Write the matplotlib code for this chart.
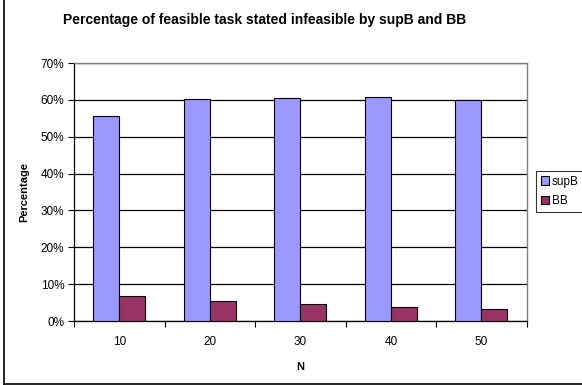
import numpy as np
import matplotlib
matplotlib.use("Agg")
import matplotlib.pyplot as plt
from matplotlib.lines import Line2D
from matplotlib.ticker import FuncFormatter

plt.rcParams['font.family'] = ['Liberation Sans', 'DejaVu Sans']

# data: percentage of feasible tasks reported infeasible
n_values = ["10", "20", "30", "40", "50"]
supb = [55.5, 60.2, 60.5, 60.7, 60.0]
bb = [6.7, 5.5, 4.6, 3.9, 3.3]

W, H = 582, 385
fig = plt.figure(figsize=(W / 100, H / 100), dpi=100)
ax = fig.add_axes([74 / W, 1 - 321 / H, (526.7 - 74) / W, (321 - 63) / H])

x = np.arange(len(n_values))
w = 0.287
ax.bar(x - w / 2, supb, w, color="#9999FF", edgecolor="black", linewidth=0.8,
       label="supB", zorder=3)
ax.bar(x + w / 2, bb, w, color="#993366", edgecolor="black", linewidth=0.8,
       label="BB", zorder=3)

ax.set_xlim(-0.5, len(n_values) - 0.5)
ax.set_ylim(0, 70)
ax.set_yticks(np.arange(0, 71, 10))
ax.yaxis.set_major_formatter(FuncFormatter(lambda v, p: f"{v:.0f}%"))
ax.yaxis.grid(True, color="black", linewidth=0.9, zorder=0)

# x ticks sit between categories, labels at centres
ax.set_xticks(np.arange(-0.5, len(n_values), 1.0))
ax.set_xticklabels([])
ax.set_xticks(x, minor=True)
ax.set_xticklabels(n_values, minor=True)
ax.tick_params(axis="x", which="major", direction="out", length=4, width=0.8)
ax.tick_params(axis="x", which="minor", length=0, labelsize=8.5, pad=11)
ax.tick_params(axis="y", direction="out", length=4, width=0.8, labelsize=8.5, pad=3)

for side in ("top", "right"):
    ax.spines[side].set_color("#808080")
    ax.spines[side].set_linewidth(1.0)
for side in ("left", "bottom"):
    ax.spines[side].set_color("black")
    ax.spines[side].set_linewidth(0.9)

ax.set_xlabel("N", fontsize=8, fontweight="bold", labelpad=10)
ax.set_ylabel("Percentage", fontsize=8, fontweight="bold", labelpad=8)

fig.text(265 / W, 1 - 20 / H, "Percentage of feasible task stated infeasible by supB and BB",
         ha="center", va="center", fontsize=10, fontweight="bold")

leg = fig.legend(loc="upper left", bbox_to_anchor=(536 / W, 1 - 171 / H),
                 fontsize=8.5, frameon=True, fancybox=False, borderpad=0.4,
                 handlelength=0.7, handleheight=0.7, handletextpad=0.25,
                 labelspacing=0.65, borderaxespad=0)
leg.get_frame().set_edgecolor("black")
leg.get_frame().set_linewidth(0.8)

# chart area border (left and bottom visible)
fig.add_artist(Line2D([4 / W, 4 / W], [1 - 383.5 / H, 1], transform=fig.transFigure,
                      color="black", linewidth=1.2))
fig.add_artist(Line2D([4 / W, 1], [1 - 383.5 / H, 1 - 383.5 / H], transform=fig.transFigure,
                      color="black", linewidth=1.2))

fig.savefig("out.png", dpi=100)
